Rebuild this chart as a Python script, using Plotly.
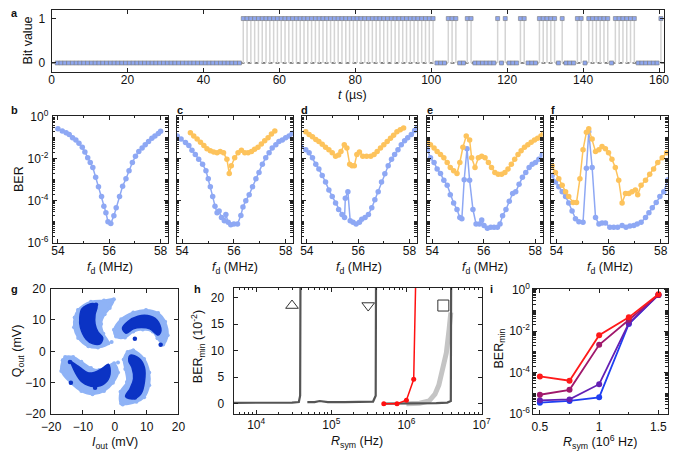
import plotly.graph_objects as go

W, H = 685, 459
FONT = "Liberation Sans, Arial, Helvetica, sans-serif"

# ---------------- data ----------------
# (a) bit sequence, one bit per microsecond
bits_a_str = (
    "0000000000" "0000000000" "0000000000" "0000000000" "000000000"
    "1111111111" "1111111111" "1111111111" "1111111111" "1111111111" "1"
    "0001110011" "0000001010" "0011000111" "1101000110" "1111110111" "1110000001"
)
bits_a = [int(c) for c in bits_a_str]
t_a = [i + 1.5 for i in range(len(bits_a))]

# (b)-(f) BER vs drive frequency
b_f = [54.0, 54.17, 54.32, 54.44, 54.57, 54.7, 54.82, 54.95, 55.05, 55.16, 55.26, 55.36, 55.47,
       55.58, 55.7, 55.79, 55.87, 55.95, 56.06, 56.18, 56.27, 56.4, 56.52, 56.65, 56.77, 56.9,
       57.02, 57.15, 57.28, 57.4, 57.53, 57.66, 57.78, 57.91, 58.0]
b_blue = [2.7e-1, 2.1e-1, 1.7e-1, 1.4e-1, 1.0e-1, 7.8e-2, 5.5e-2, 3.5e-2, 2.1e-2, 1.1e-2, 6.6e-3,
          3.8e-3, 1.3e-3, 4.6e-4, 1.6e-4, 5.5e-5, 2.7e-5, 1.0e-5, 8.3e-6, 1.9e-5, 4.6e-5, 1.6e-4,
          4.9e-4, 1.1e-3, 2.7e-3, 6.6e-3, 1.3e-2, 2.2e-2, 3.2e-2, 4.6e-2, 6.6e-2, 9.3e-2, 1.2e-1,
          1.6e-1, 2.0e-1]

c_f_blue = [53.81, 53.96, 54.13, 54.26, 54.38, 54.51, 54.64, 54.79, 54.92, 55.01, 55.09, 55.18,
            55.27, 55.35, 55.43, 55.52, 55.63, 55.69, 55.78, 55.88, 56.0, 56.14, 56.27, 56.35,
            56.46, 56.59, 56.72, 56.85, 56.97, 57.1, 57.23, 57.36, 57.48, 57.62, 57.74, 57.87,
            58.0, 58.13, 58.25]
c_blue = [1.2e-1, 8.7e-2, 5.9e-2, 4.2e-2, 2.5e-2, 1.6e-2, 9.3e-3, 5.5e-3, 2.7e-3, 1.1e-3, 4.6e-4,
          1.6e-4, 5.5e-5, 2.7e-5, 3.2e-5, 1.6e-5, 1.1e-5, 2.2e-5, 9.3e-6, 7.1e-6, 7.8e-6, 7.8e-6,
          2.0e-5, 5.0e-5, 1.0e-4, 1.9e-4, 4.6e-4, 1.1e-3, 2.2e-3, 5.5e-3, 1.1e-2, 1.9e-2, 3.2e-2,
          4.6e-2, 6.6e-2, 7.8e-2, 1.0e-1, 1.2e-1, 1.6e-1]
c_f_orange = [54.32, 54.45, 54.58, 54.71, 54.84, 54.96, 55.09, 55.22, 55.35, 55.47, 55.6, 55.73,
              55.82, 55.9, 56.03, 56.16, 56.29, 56.42, 56.55, 56.68, 56.8, 56.93, 57.06, 57.19,
              57.32, 57.45, 57.58]
c_orange = [1.7e-1, 1.2e-1, 8.7e-2, 6.0e-2, 4.3e-2, 3.0e-2, 2.4e-2, 2.1e-2, 1.9e-2, 2.2e-2, 1.9e-2,
            9.3e-3, 2.0e-3, 4.6e-3, 1.1e-2, 1.9e-2, 2.5e-2, 1.9e-2, 1.9e-2, 2.2e-2, 2.8e-2, 3.5e-2,
            5.0e-2, 7.1e-2, 1.0e-1, 1.5e-1, 2.1e-1]

d_f_blue = [53.76, 53.96, 54.09, 54.22, 54.35, 54.47, 54.6, 54.73, 54.86, 54.99, 55.12, 55.24,
            55.37, 55.47, 55.5, 55.6, 55.69, 55.8, 55.92, 56.05, 56.14, 56.27, 56.4, 56.53, 56.65,
            56.78, 56.91, 57.04, 57.17, 57.3, 57.42, 57.55, 57.68, 57.81, 57.93, 58.07, 58.2, 58.3]
d_blue = [3.8e-2, 2.7e-2, 1.9e-2, 1.1e-2, 5.5e-3, 3.2e-3, 1.6e-3, 7.8e-4, 3.2e-4, 1.6e-4, 7.8e-5,
          3.8e-5, 2.2e-5, 1.6e-5, 1.3e-4, 2.7e-4, 1.1e-5, 9.3e-6, 7.8e-6, 9.3e-6, 1.3e-5, 1.6e-5,
          2.2e-5, 4.6e-5, 1.1e-4, 2.7e-4, 7.8e-4, 1.9e-3, 4.6e-3, 9.3e-3, 1.6e-2, 2.7e-2, 4.6e-2,
          7.1e-2, 1.0e-1, 1.4e-1, 2.2e-1, 2.9e-1]
d_f_orange = [53.96, 54.09, 54.22, 54.35, 54.47, 54.6, 54.73, 54.86, 54.99, 55.12, 55.24, 55.33,
              55.46, 55.56, 55.67, 55.76, 55.85, 55.95, 56.05, 56.18, 56.33, 56.49, 56.62, 56.74,
              56.87, 57.0, 57.13, 57.26, 57.38, 57.51, 57.64, 57.77]
d_orange = [1.9e-1, 1.4e-1, 1.1e-1, 8.3e-2, 6.6e-2, 4.9e-2, 3.5e-2, 2.7e-2, 1.9e-2, 1.3e-2, 1.5e-2,
            2.2e-2, 4.6e-2, 3.2e-2, 5.5e-3, 4.6e-3, 4.6e-3, 1.6e-2, 2.1e-2, 1.3e-2, 1.3e-2, 1.3e-2,
            1.6e-2, 2.2e-2, 3.2e-2, 4.6e-2, 6.6e-2, 9.3e-2, 1.3e-1, 1.9e-1, 2.4e-1, 2.9e-1]

e_f_blue = [53.81, 53.93, 54.07, 54.19, 54.32, 54.45, 54.58, 54.7, 54.83, 54.96, 55.07, 55.15,
            55.24, 55.35, 55.45, 55.58, 55.7, 55.83, 55.92, 56.01, 56.14, 56.27, 56.4, 56.53,
            56.63, 56.73, 56.86, 56.99, 57.12, 57.24, 57.37, 57.5, 57.63, 57.76, 57.88, 58.01,
            58.14, 58.27]
e_blue = [2.7e-2, 1.1e-2, 6.6e-3, 3.2e-3, 2.0e-3, 9.3e-4, 5.5e-4, 1.9e-4, 7.8e-5, 3.8e-5, 1.6e-5,
          1.4e-5, 1.0e-3, 3.0e-2, 9.3e-4, 3.8e-5, 7.8e-6, 7.8e-6, 1.2e-5, 6.6e-6, 4.9e-6, 5.5e-6,
          5.5e-6, 5.5e-6, 7.8e-6, 1.9e-5, 3.8e-5, 9.3e-5, 2.2e-4, 2.7e-4, 6.0e-4, 1.3e-3, 2.2e-3,
          3.8e-3, 5.5e-3, 6.6e-3, 9.3e-3, 1.5e-2]
e_f_orange = [53.81, 53.93, 54.07, 54.19, 54.32, 54.45, 54.58, 54.7, 54.83, 54.96, 55.07, 55.19,
              55.32, 55.45, 55.53, 55.66, 55.79, 55.92, 56.05, 56.18, 56.3, 56.43, 56.56, 56.69,
              56.82, 56.94, 57.07, 57.2, 57.33, 57.45, 57.58, 57.71, 57.84, 57.97, 58.09, 58.22,
              58.31]
e_orange = [6.6e-2, 4.6e-2, 3.2e-2, 2.2e-2, 1.6e-2, 1.1e-2, 6.6e-3, 3.8e-3, 2.7e-3, 2.0e-3, 6.6e-3,
            3.5e-2, 1.2e-1, 7.8e-2, 1.1e-2, 3.8e-3, 1.1e-2, 1.3e-2, 1.1e-2, 6.6e-3, 3.8e-3, 2.2e-3,
            1.8e-3, 1.8e-3, 2.2e-3, 3.2e-3, 5.5e-3, 9.3e-3, 1.6e-2, 2.4e-2, 3.5e-2, 4.6e-2, 6.0e-2,
            7.8e-2, 9.3e-2, 1.2e-1, 1.6e-1]

f_f_blue = [53.83, 53.96, 54.09, 54.22, 54.35, 54.47, 54.6, 54.73, 54.86, 55.02, 55.15, 55.24,
            55.37, 55.5, 55.63, 55.75, 55.88, 56.05, 56.2, 56.35, 56.52, 56.67, 56.82, 56.97,
            57.1, 57.25, 57.42, 57.55, 57.68, 57.83, 57.97, 58.12, 58.28]
f_blue = [1.6e-3, 7.8e-4, 4.6e-4, 2.7e-4, 1.6e-4, 7.8e-5, 3.2e-5, 1.4e-5, 1.0e-5, 9.3e-6, 3.5e-3,
          1.9e-1, 3.8e-3, 1.6e-5, 7.8e-6, 8.7e-6, 8.7e-6, 5.5e-6, 5.5e-6, 5.5e-6, 6.6e-6, 5.5e-6,
          6.2e-6, 6.6e-6, 7.8e-6, 9.3e-6, 1.6e-5, 2.7e-5, 4.6e-5, 8.3e-5, 1.6e-4, 2.7e-4, 1.0e-3]
f_f_orange = [53.83, 53.96, 54.09, 54.22, 54.35, 54.47, 54.64, 54.77, 54.9, 55.02, 55.15, 55.24,
              55.37, 55.5, 55.63, 55.75, 55.88, 56.0, 56.13, 56.26, 56.39, 56.52, 56.65, 56.78,
              56.9, 57.03, 57.12, 57.25, 57.42, 57.58, 57.73, 57.89, 58.06, 58.23]
f_orange = [4.6e-3, 2.2e-3, 1.1e-3, 5.5e-4, 2.7e-4, 1.6e-4, 8.3e-5, 8.3e-5, 1.1e-3, 2.7e-2, 1.8e-1,
            2.7e-1, 8.7e-2, 2.2e-2, 2.7e-2, 3.8e-2, 3.0e-2, 1.9e-2, 9.3e-3, 3.8e-3, 9.3e-4, 7.8e-5,
            2.2e-4, 2.2e-4, 2.7e-4, 3.2e-4, 1.9e-4, 5.5e-4, 9.3e-4, 1.8e-3, 3.2e-3, 6.6e-3, 1.1e-2,
            1.9e-2]

# (g) IQ constellation clouds (outlines of the measured point clouds)
g_ul_light_x = [-11.5, -7.5, -3.4, -0.3, -1.6, -3.2, -4.3, -3.6, -2.0, -5.3, -8.3, -11.5, -12.8, -12.6]
g_ul_light_y = [13.2, 15.8, 16.2, 16.6, 13.8, 11.8, 8.7, 5.6, 2.6, 1.2, 1.6, 4.3, 7.7, 10.8]
g_ul_dark_x = [-10.3, -7.0, -5.6, -6.2, -6.2, -5.3, -3.8, -4.5, -6.8, -9.0, -10.8, -11.0]
g_ul_dark_y = [13.6, 15.2, 14.3, 11.8, 8.7, 6.2, 4.4, 2.5, 2.4, 3.9, 7.7, 10.8]
g_ur_light_x = [-0.2, 2.0, 5.8, 9.8, 13.6, 15.8, 16.6, 15.2, 13.4, 11.9, 8.8, 5.8, 3.2, 0.4]
g_ur_light_y = [6.9, 10.2, 12.4, 13.2, 12.2, 9.4, 5.1, 2.2, 4.2, 6.3, 7.0, 6.3, 4.4, 4.7]
g_ur_dark_x = [2.4, 4.2, 7.3, 10.3, 13.2, 14.5, 13.6, 11.0, 8.3, 5.8, 3.5]
g_ur_dark_y = [7.4, 9.6, 11.2, 11.4, 10.0, 6.7, 5.2, 7.2, 7.6, 7.2, 5.8]
g_lr_light_x = [5.8, 9.2, 10.8, 10.8, 9.2, 6.8, 2.0, 1.8, 3.8, 3.3, 2.8, 4.0]
g_lr_light_y = [0.3, -2.4, -6.7, -10.8, -14.6, -16.0, -16.6, -12.8, -9.7, -5.6, -2.6, -0.2]
g_lr_dark_x = [4.9, 7.6, 9.3, 9.3, 8.2, 5.9, 3.4, 4.8, 5.9, 5.4, 4.4]
g_lr_dark_y = [-1.2, -2.2, -5.1, -9.7, -13.5, -15.1, -14.4, -11.8, -8.7, -5.1, -3.1]
g_ll_light_x = [-16.3, -16.8, -13.8, -10.5, -7.0, -3.4, -0.6, 1.0, -0.2, -2.4, -4.9, -7.5, -10.5, -13.1, -15.6]
g_ll_light_y = [-2.8, -6.2, -10.0, -12.6, -13.6, -12.6, -10.0, -6.7, -3.8, -4.8, -5.9, -5.3, -3.3, -1.8, -1.8]
g_ll_dark_x = [-13.9, -12.3, -10.2, -6.5, -3.2, -1.5, -2.0, -3.6, -6.5, -8.5, -11.0, -13.3]
g_ll_dark_y = [-3.0, -6.9, -9.8, -11.2, -10.2, -7.2, -4.1, -5.2, -6.7, -6.8, -5.1, -3.5]
g_out_dark_x = [-14.1, -13.8, -6.2, 6.3, 14.4, 6.3, -5.9]
g_out_dark_y = [-3.4, -10.0, -11.6, 4.0, 2.1, -14.7, 14.8]
g_out_light_x = [-2.0, 2.5, -16.5, 16.0, -15.0, 11.5, -1.0, 1.0]
g_out_light_y = [16.0, -16.9, -6.0, 6.0, -3.0, 11.5, 3.0, -3.5]

# (h) BER_min (1e-2) vs symbol rate
h_c1_x = [4.5e3, 8e3, 1.2e4, 2e4, 3e4, 3.7e4, 3.85e4, 3.9e4]
h_c1_y = [0.15, 0.15, 0.15, 0.2, 0.2, 0.3, 1.5, 30]
h_c2_x = [4.8e4, 6e4, 7e4, 9e4, 1.5e5, 2.5e5, 3.6e5, 3.9e5, 3.95e5]
h_c2_y = [0.3, 0.3, 0.5, 0.3, 0.3, 0.3, 0.4, 1.5, 30]
h_c3_x = [5e5, 8e5, 1.5e6, 2.5e6, 3.5e6, 3.9e6, 3.95e6]
h_c3_y = [0.0, 0.0, 0.0, 0.1, 0.2, 0.5, 30]
h_grey_x = [1.0e6, 1.5e6, 2.0e6, 2.4e6, 2.7e6, 3.0e6, 3.4e6, 3.7e6, 3.9e6]
h_grey_y = [0.0, 0.1, 0.5, 1.8, 3.5, 6.0, 9.6, 14.0, 17.2]
h_sym_x = [3.0e4, 3.1e5, 3.1e6]
h_sym_y = [18.5, 18.5, 18.5]

# (i) BER_min vs symbol rate (1e6 Hz)
i_rsym = [0.5, 0.75, 1.0, 1.25, 1.5]
i_red = [6.6e-5, 4.1e-5, 6.4e-3, 4.6e-2, 6.0e-1]
i_mag = [8.7e-6, 1.5e-5, 2.2e-3, 3.5e-2, 5.5e-1]
i_pur = [4.7e-6, 5.2e-6, 2.8e-5, 2.4e-2, 5.5e-1]
i_blu = [3.6e-6, 4.4e-6, 6.5e-6, 2.2e-2, 5.5e-1]

# ---------------- styling ----------------
BLUE = "#8ea8f4"
ORANGE = "#fdc35c"
G_LIGHT = "#8fb3f6"
G_DARK = "#0b33c4"
AXC = "#222222"


def px2x(px):
    return px / W


def py2y(py):
    return 1 - py / H


def log_minor(e0, e1):
    return [m * 10 ** e for e in range(e0, e1) for m in range(2, 10)]


fig = go.Figure()

# ---- panel a ----
stem_x, stem_y = [], []
for t, b in zip(t_a, bits_a):
    if b == 1:
        stem_x += [t, t, None]
        stem_y += [0, 1, None]
fig.add_trace(go.Scatter(x=stem_x, y=stem_y, mode="lines", line=dict(color="#d4d4d4", width=1.5),
                         xaxis="x", yaxis="y", hoverinfo="skip"))
fig.add_trace(go.Scatter(x=t_a, y=bits_a, mode="markers",
                         marker=dict(symbol="square", size=4, color="#8ea6ee",
                                     line=dict(color="#7c7c7c", width=0.6)),
                         xaxis="x", yaxis="y"))

# ---- panels b-f ----
row2 = [
    (2, b_f, b_blue, None, None),
    (3, c_f_blue, c_blue, c_f_orange, c_orange),
    (4, d_f_blue, d_blue, d_f_orange, d_orange),
    (5, e_f_blue, e_blue, e_f_orange, e_orange),
    (6, f_f_blue, f_blue, f_f_orange, f_orange),
]
for n, fb, vb, fo, vo in row2:
    fig.add_trace(go.Scatter(x=fb, y=vb, mode="lines+markers",
                             line=dict(color=BLUE, width=1.5), marker=dict(size=5.5, color=BLUE),
                             xaxis=f"x{n}", yaxis=f"y{n}"))
    if fo is not None:
        fig.add_trace(go.Scatter(x=fo, y=vo, mode="lines+markers",
                                 line=dict(color=ORANGE, width=1.5), marker=dict(size=5.5, color=ORANGE),
                                 xaxis=f"x{n}", yaxis=f"y{n}"))

# ---- panel g ----
for lx, ly in [(g_ul_light_x, g_ul_light_y), (g_ur_light_x, g_ur_light_y),
               (g_lr_light_x, g_lr_light_y), (g_ll_light_x, g_ll_light_y)]:
    fig.add_trace(go.Scatter(x=lx + lx[:1], y=ly + ly[:1], mode="lines+markers", fill="toself",
                             fillcolor=G_LIGHT, line=dict(color=G_LIGHT, width=2, shape="spline"),
                             marker=dict(size=4, color=G_LIGHT), xaxis="x7", yaxis="y7"))
fig.add_trace(go.Scatter(x=g_out_light_x, y=g_out_light_y, mode="markers",
                         marker=dict(size=4, color=G_LIGHT), xaxis="x7", yaxis="y7"))
for dx, dy in [(g_ul_dark_x, g_ul_dark_y), (g_ur_dark_x, g_ur_dark_y),
               (g_lr_dark_x, g_lr_dark_y), (g_ll_dark_x, g_ll_dark_y)]:
    fig.add_trace(go.Scatter(x=dx + dx[:1], y=dy + dy[:1], mode="lines", fill="toself",
                             fillcolor=G_DARK, line=dict(color=G_DARK, width=1.5, shape="spline"),
                             xaxis="x7", yaxis="y7"))
fig.add_trace(go.Scatter(x=g_out_dark_x, y=g_out_dark_y, mode="markers",
                         marker=dict(size=4.5, color=G_DARK), xaxis="x7", yaxis="y7"))

# ---- panel h ----
fig.add_trace(go.Scatter(x=h_grey_x, y=h_grey_y, mode="lines", line=dict(color="#c4c4c4", width=5),
                         xaxis="x8", yaxis="y8"))
for cx, cy in [(h_c1_x, h_c1_y), (h_c2_x, h_c2_y), (h_c3_x, h_c3_y)]:
    fig.add_trace(go.Scatter(x=cx, y=cy, mode="lines", line=dict(color="#555555", width=2.2),
                             xaxis="x8", yaxis="y8"))
h_red_x = [r * 1e6 for r in i_rsym]
h_red_y = [v * 100 for v in i_red]
fig.add_trace(go.Scatter(x=h_red_x, y=h_red_y, mode="lines+markers", line=dict(color="#ff1010", width=1.5),
                         marker=dict(size=5, color="#ff1010"), xaxis="x8", yaxis="y8", cliponaxis=True))
fig.add_trace(go.Scatter(x=h_sym_x, y=h_sym_y, mode="markers",
                         marker=dict(symbol=["triangle-up-open", "triangle-down-open", "square-open"],
                                     size=11, color="#333333", line=dict(width=1)),
                         xaxis="x8", yaxis="y8"))

# ---- panel i ----
for vals, col in [(i_blu, "#1f3ff2"), (i_pur, "#6420b4"), (i_mag, "#a0186c"), (i_red, "#ff1a1a")]:
    fig.add_trace(go.Scatter(x=i_rsym, y=vals, mode="lines+markers", line=dict(color=col, width=1.8),
                             marker=dict(size=6, color=col), xaxis="x9", yaxis="y9"))

# ---------------- axes ----------------
base = dict(showline=True, linecolor=AXC, linewidth=1, mirror="allticks", ticks="inside",
            ticklen=4, tickcolor=AXC, tickwidth=1, showgrid=False, zeroline=False,
            tickfont=dict(family=FONT, size=12, color="#111"))


def dom(p0, p1, vertical=False):
    if vertical:
        return [py2y(p1), py2y(p0)]
    return [px2x(p0), px2x(p1)]


layout = {}
# a
layout["xaxis"] = dict(base, domain=dom(42.7, 673), range=[0, 161.4], tickvals=list(range(0, 161, 20)),
                       ticklabelstandoff=-3, anchor="y")
layout["yaxis"] = dict(base, domain=dom(1.7, 66, True), range=[-0.2, 1.2], tickvals=[0, 1], anchor="x",
                       ticklabelstandoff=3)

row2_x = [(44, 162.3), (171.7, 291), (300, 418.3), (429, 547.7), (556.7, 676.7)]
even_dec = [1e-6, 1e-4, 1e-2, 1]
even_text = ["10<sup>-6</sup>", "10<sup>-4</sup>", "10<sup>-2</sup>", "10<sup>0</sup>"]
minor_log = log_minor(-6, 0) + [1e-5, 1e-3, 1e-1]
for k, (x0, x1) in enumerate(row2_x):
    n = k + 2
    layout[f"xaxis{n}"] = dict(base, domain=dom(x0, x1), range=[53.8, 58.28], tickvals=[54, 56, 58],
                               minor=dict(ticks="inside", ticklen=2, tickvals=[55, 57], tickcolor=AXC),
                               ticklabelstandoff=-4, anchor=f"y{n}")
    layout[f"yaxis{n}"] = dict(base, domain=dom(111.7, 243.3, True), type="log", range=[-6.03, 0.03],
                               tickvals=even_dec, ticktext=even_text, showticklabels=(k == 0),
                               ticklabelstandoff=1,
                               minor=dict(ticks="inside", ticklen=2.5, tickvals=minor_log, tickcolor=AXC),
                               anchor=f"x{n}")

# g
layout["xaxis7"] = dict(base, domain=dom(42.3, 173.3), range=[-20, 20], tickvals=[-20, -10, 0, 10, 20],
                        ticklabelstandoff=1, anchor="y7")
layout["yaxis7"] = dict(base, domain=dom(290, 420, True), range=[-20, 20], tickvals=[-20, -10, 0, 10, 20],
                        ticklabelstandoff=2, anchor="x7")
# h
layout["xaxis8"] = dict(base, domain=dom(230, 485), type="log", range=[3.7, 7.0],
                        tickvals=[1e4, 1e5, 1e6, 1e7],
                        ticktext=["10<sup>4</sup>", "10<sup>5</sup>", "10<sup>6</sup>", "10<sup>7</sup>"],
                        minor=dict(ticks="inside", ticklen=2, tickvals=log_minor(3, 7), tickcolor=AXC),
                        ticklabelstandoff=-1, anchor="y8")
layout["yaxis8"] = dict(base, domain=dom(289.5, 420, True), range=[-2, 21.8], tickvals=[0, 5, 10, 15, 20],
                        ticklabelstandoff=6, anchor="x8")
# i
layout["xaxis9"] = dict(base, domain=dom(538.3, 676.7), range=[0.445, 1.58], tickvals=[0.5, 1, 1.5],
                        ticktext=["0.5", "1", "1.5"],
                        minor=dict(ticks="inside", ticklen=2, tickvals=[0.75, 1.25], tickcolor=AXC),
                        ticklabelstandoff=1, anchor="y9")
layout["yaxis9"] = dict(base, domain=dom(290, 420, True), type="log", range=[-6.0, 0.05],
                        tickvals=even_dec, ticktext=even_text,
                        minor=dict(ticks="inside", ticklen=2.5, tickvals=minor_log, tickcolor=AXC),
                        anchor="x9")

# ---------------- annotations ----------------
ann = []


def text(px, py, s, size=12.5, angle=0, bold=False, xanchor="center"):
    ann.append(dict(x=px2x(px), y=py2y(py), xref="paper", yref="paper", text=(f"<b>{s}</b>" if bold else s),
                    showarrow=False, textangle=angle, xanchor=xanchor, yanchor="middle",
                    font=dict(family=FONT, size=size, color="#111")))


for lab, px, py in [("a", 5, 5), ("b", 5, 105), ("c", 175, 105), ("d", 303, 105), ("e", 432, 105),
                    ("f", 558, 105), ("g", 5, 290), ("h", 193, 290), ("i", 495, 290)]:
    text(px, py, lab, size=11, bold=True)

text(18, 34, "Bit value", angle=-90)
text(352, 90, "<i>t</i> (µs)")
text(9, 177, "BER", angle=-90)
for (x0, x1) in row2_x:
    text((x0 + x1) / 2, 269, "<i>f</i><sub>d</sub> (MHz)")
text(9, 355, "Q<sub>out</sub> (mV)", angle=-90)
text(107.5, 450, "<i>I</i><sub>out</sub> (mV)")
text(193, 350, "BER<sub>min</sub> (10<sup>-2</sup>)", angle=-90)
text(357, 449, "<i>R</i><sub>sym</sub> (Hz)")
text(504, 352, "BER<sub>min</sub>", angle=-90)
text(607, 449, "<i>R</i><sub>sym</sub> (10<sup>6</sup> Hz)")

# baseline of the stem plot in panel a
shapes = [dict(type="line", xref="x domain", yref="y", x0=0, x1=1, y0=0, y1=0,
               line=dict(color="#111", width=1, dash="4px,3px"), layer="below")]

fig.update_layout(width=W, height=H, margin=dict(l=0, r=0, t=0, b=0), showlegend=False,
                  plot_bgcolor="white", paper_bgcolor="white", annotations=ann, shapes=shapes,
                  font=dict(family=FONT), hovermode=False, **layout)

fig.write_html("out.html", config={"displayModeBar": False, "staticPlot": True},
               post_script="document.body.style.margin='0px';document.body.style.overflow='hidden';")
